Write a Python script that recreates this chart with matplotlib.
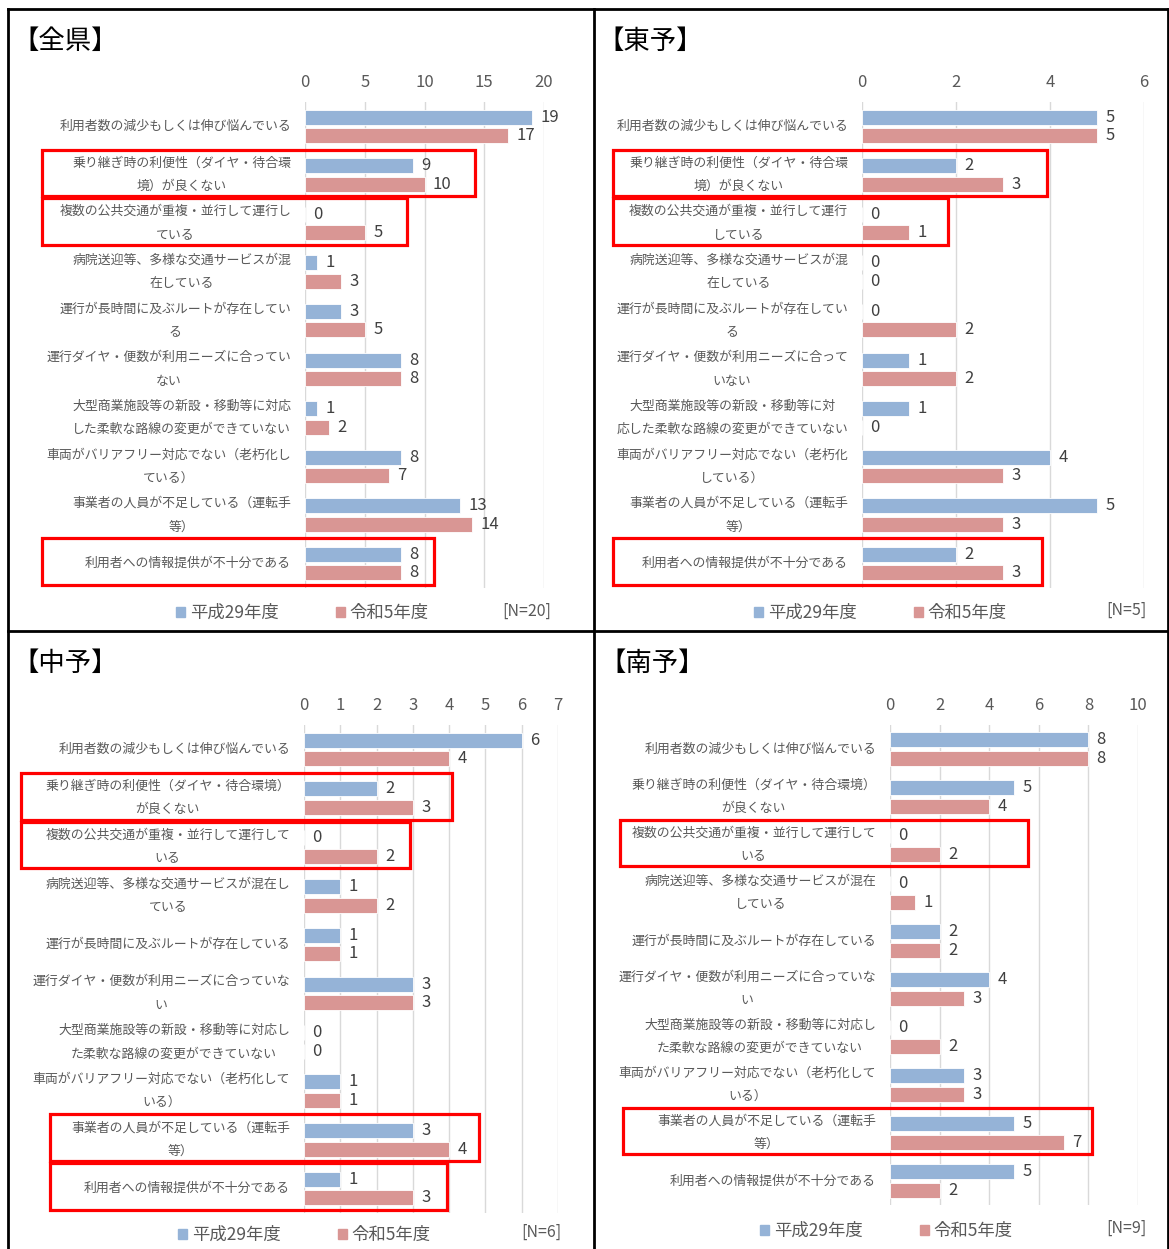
import matplotlib
matplotlib.use('Agg')
import matplotlib.pyplot as plt
from matplotlib.patches import Rectangle, Patch
from matplotlib.lines import Line2D
from matplotlib.transforms import blended_transform_factory, IdentityTransform
import numpy as np

# 日本語フォント
plt.rcParams['font.family'] = ['Noto Sans CJK JP', 'DejaVu Sans']

W, H = 1169, 1249

# ====================== データ ======================
series_names = ['平成29年度', '令和5年度']
bar_colors = ['#95B3D7', '#D99694']

titles = ['【全県】', '【東予】', '【中予】', '【南予】']
n_texts = ['[N=20]', '[N=5]', '[N=6]', '[N=9]']

labels_zenken = [
    '利用者数の減少もしくは伸び悩んでいる',
    '乗り継ぎ時の利便性（ダイヤ・待合環\n境）が良くない',
    '複数の公共交通が重複・並行して運行し\nている',
    '病院送迎等、多様な交通サービスが混\n在している',
    '運行が長時間に及ぶルートが存在してい\nる',
    '運行ダイヤ・便数が利用ニーズに合ってい\nない',
    '大型商業施設等の新設・移動等に対応\nした柔軟な路線の変更ができていない',
    '車両がバリアフリー対応でない（老朽化し\nている）',
    '事業者の人員が不足している（運転手\n等）',
    '利用者への情報提供が不十分である',
]
labels_toyo = [
    '利用者数の減少もしくは伸び悩んでいる',
    '乗り継ぎ時の利便性（ダイヤ・待合環\n境）が良くない',
    '複数の公共交通が重複・並行して運行\nしている',
    '病院送迎等、多様な交通サービスが混\n在している',
    '運行が長時間に及ぶルートが存在してい\nる',
    '運行ダイヤ・便数が利用ニーズに合って\nいない',
    '大型商業施設等の新設・移動等に対\n応した柔軟な路線の変更ができていない',
    '車両がバリアフリー対応でない（老朽化\nしている）',
    '事業者の人員が不足している（運転手\n等）',
    '利用者への情報提供が不十分である',
]
labels_chuyo = [
    '利用者数の減少もしくは伸び悩んでいる',
    '乗り継ぎ時の利便性（ダイヤ・待合環境）\nが良くない',
    '複数の公共交通が重複・並行して運行して\nいる',
    '病院送迎等、多様な交通サービスが混在し\nている',
    '運行が長時間に及ぶルートが存在している',
    '運行ダイヤ・便数が利用ニーズに合っていな\nい',
    '大型商業施設等の新設・移動等に対応し\nた柔軟な路線の変更ができていない',
    '車両がバリアフリー対応でない（老朽化して\nいる）',
    '事業者の人員が不足している（運転手\n等）',
    '利用者への情報提供が不十分である',
]
labels_nanyo = [
    '利用者数の減少もしくは伸び悩んでいる',
    '乗り継ぎ時の利便性（ダイヤ・待合環境）\nが良くない',
    '複数の公共交通が重複・並行して運行して\nいる',
    '病院送迎等、多様な交通サービスが混在\nしている',
    '運行が長時間に及ぶルートが存在している',
    '運行ダイヤ・便数が利用ニーズに合っていな\nい',
    '大型商業施設等の新設・移動等に対応し\nた柔軟な路線の変更ができていない',
    '車両がバリアフリー対応でない（老朽化して\nいる）',
    '事業者の人員が不足している（運転手\n等）',
    '利用者への情報提供が不十分である',
]

h29_zenken = [19, 9, 0, 1, 3, 8, 1, 8, 13, 8]
r5_zenken = [17, 10, 5, 3, 5, 8, 2, 7, 14, 8]
h29_toyo = [5, 2, 0, 0, 0, 1, 1, 4, 5, 2]
r5_toyo = [5, 3, 1, 0, 2, 2, 0, 3, 3, 3]
h29_chuyo = [6, 2, 0, 1, 1, 3, 0, 1, 3, 1]
r5_chuyo = [4, 3, 2, 2, 1, 3, 0, 1, 4, 3]
h29_nanyo = [8, 5, 0, 0, 2, 4, 0, 3, 5, 5]
r5_nanyo = [8, 4, 2, 1, 2, 3, 2, 3, 7, 2]

xmax_list = [20, 6, 7, 10]
xstep_list = [5, 2, 1, 2]

# 強調枠: (パネル, 行, 左端px, 右端px)
highlight_boxes = [
    (0, 1, 42, 475), (0, 2, 42, 407), (0, 9, 42, 434),
    (1, 1, 613, 1047), (1, 2, 613, 948), (1, 9, 613, 1042),
    (2, 1, 21, 452), (2, 2, 21, 410), (2, 8, 50, 479), (2, 9, 50, 447),
    (3, 2, 620, 1028), (3, 8, 623, 1092),
]

# ====================== レイアウト(px) ======================
# axes: (left, right, top, bottom)
axes_px = [(305, 544, 102, 588), (862, 1144, 102, 588),
           (304, 558, 725, 1213), (890, 1138, 725, 1205)]
title_px = [(12, 41), (597, 41), (12, 663), (599, 663)]
legend_px = [(176, 613), (754, 613), (178, 1235), (760, 1231)]
n_px = [(551, 611), (1147, 610), (561, 1232), (1146, 1228)]

all_labels = [labels_zenken, labels_toyo, labels_chuyo, labels_nanyo]
all_h29 = [h29_zenken, h29_toyo, h29_chuyo, h29_nanyo]
all_r5 = [r5_zenken, r5_toyo, r5_chuyo, r5_nanyo]

fig = plt.figure(figsize=(W / 100, H / 100), dpi=100)
fig.patch.set_facecolor('white')

text_gray = '#595959'
axes_list = []

for p in range(4):
    l, r, t, b = axes_px[p]
    ax = fig.add_axes([l / W, 1 - b / H, (r - l) / W, (b - t) / H])
    axes_list.append(ax)
    cats = all_labels[p]
    y = np.arange(len(cats))
    bh = 0.31
    off = 0.19
    ax.barh(y - off, all_h29[p], height=bh, color=bar_colors[0],
            edgecolor='white', linewidth=0.6, zorder=3, label=series_names[0])
    ax.barh(y + off, all_r5[p], height=bh, color=bar_colors[1],
            edgecolor='white', linewidth=0.6, zorder=3, label=series_names[1])

    ax.set_xlim(0, xmax_list[p])
    ax.set_ylim(len(cats) - 0.5, -0.5)
    ax.set_xticks(np.arange(0, xmax_list[p] + 0.1, xstep_list[p]))
    ax.xaxis.tick_top()
    ax.tick_params(axis='x', length=0, pad=8, labelsize=12, labelcolor=text_gray)
    ax.set_yticks(y)
    ax.set_yticklabels(cats, fontsize=9.3, color=text_gray, linespacing=2.05,
                       multialignment='center')
    for lab in ax.get_yticklabels():
        lab.set_verticalalignment('center')
    ax.tick_params(axis='y', length=0, pad=10)
    ax.grid(axis='x', color='#D9D9D9', linewidth=1, zorder=0)
    for s in ax.spines.values():
        s.set_visible(False)

    # 数値ラベル
    for cont in ax.containers:
        ax.bar_label(cont, padding=6, fontsize=12, color='#404040')

    # タイトル
    tx, ty = title_px[p]
    fig.text(tx / W, 1 - ty / H, titles[p], fontsize=19, color='black',
             ha='left', va='center')

    # 凡例
    lx, ly = legend_px[p]
    handles = [Patch(color=c) for c in bar_colors]
    fig.legend(handles, series_names, loc='center left',
               bbox_to_anchor=(lx / W, 1 - ly / H), ncol=2, frameon=False,
               fontsize=12.5, labelcolor=text_gray, handlelength=0.5,
               handleheight=0.5, handletextpad=0.3, columnspacing=3.3,
               borderpad=0, borderaxespad=0)

    nx, ny = n_px[p]
    fig.text(nx / W, 1 - ny / H, n_texts[p], fontsize=11.5, color=text_gray,
             ha='right', va='center')

# 強調枠
for p, row, x0, x1 in highlight_boxes:
    ax = axes_list[p]
    tr = blended_transform_factory(IdentityTransform(), ax.transData)
    y0, y1 = row - 0.52, row + 0.44
    rect = Rectangle((x0, y1), x1 - x0, y0 - y1, transform=tr, fill=False,
                     edgecolor='#FF0000', linewidth=2.3, clip_on=False, zorder=5)
    ax.add_patch(rect)

# 外枠・区切り線
def fig_line(x0, y0, x1, y1):
    fig.add_artist(Line2D([x0 / W, x1 / W], [1 - y0 / H, 1 - y1 / H],
                          transform=fig.transFigure, color='black', linewidth=2))

fig_line(8, 9, 1168, 9)
fig_line(8, 9, 8, 1249)
fig_line(1168, 9, 1168, 1249)
fig_line(594, 9, 594, 1249)
fig_line(8, 631, 1168, 631)

fig.savefig('out.png', dpi=100)
